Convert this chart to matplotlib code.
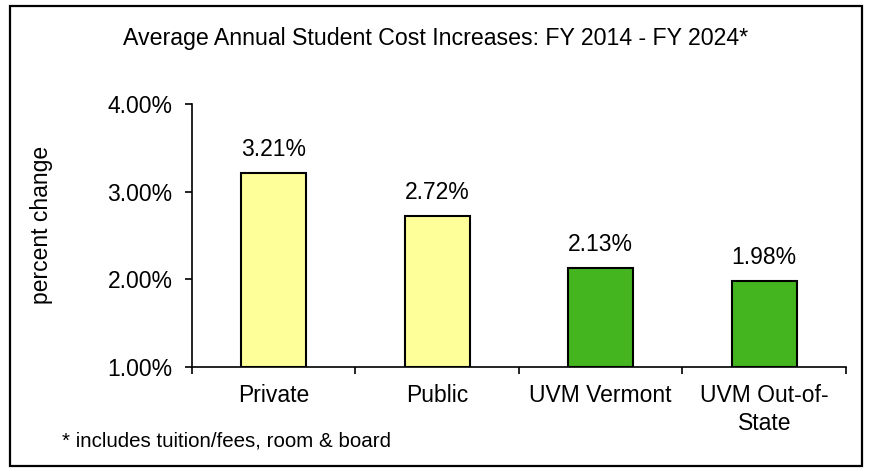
import matplotlib
matplotlib.use("Agg")
import matplotlib.pyplot as plt
from matplotlib.patches import Rectangle
from matplotlib.ticker import FuncFormatter, FixedLocator

plt.rcParams['font.family'] = ['Liberation Sans', 'DejaVu Sans']

categories = ["Private", "Public", "UVM Vermont", "UVM Out-of-\nState"]
values = [3.21, 2.72, 2.13, 1.98]
bar_colors = ["#FFFF99", "#FFFF99", "#44B41F", "#44B41F"]
title = "Average Annual Student Cost Increases: FY 2014 - FY 2024*"
footnote = "* includes tuition/fees, room & board"
ylabel = "percent change"
yticks = [1.0, 2.0, 3.0, 4.0]

W, H = 870, 472
FS = 16.5
fig = plt.figure(figsize=(W / 100, H / 100), dpi=100)
fig.patch.set_facecolor("white")

# outer border
fig.patches.append(Rectangle((10 / W, 1 - 466 / H), (862 - 10) / W, (466 - 6) / H,
                             transform=fig.transFigure, fill=False,
                             edgecolor="black", linewidth=1.6))

ax = fig.add_axes([192 / W, 1 - 367 / H, (846 - 192) / W, (367 - 104) / H])
x = list(range(len(categories)))
ax.bar(x, [v - 1.0 for v in values], bottom=1.0, width=0.4, color=bar_colors,
       edgecolor="black", linewidth=1.5, zorder=3)

ax.set_xlim(-0.5, len(categories) - 0.5)
ax.set_ylim(1.0, 4.0)
ax.set_yticks(yticks)
ax.yaxis.set_major_formatter(FuncFormatter(lambda v, p: f"{v:.2f}%"))
ax.set_xticks(x)
ax.set_xticklabels(categories, linespacing=1.3)
ax.xaxis.set_minor_locator(FixedLocator([i - 0.5 for i in range(len(categories) + 1)]))
ax.tick_params(axis="x", which="major", length=0, pad=12, labelsize=FS)
ax.tick_params(axis="x", which="minor", length=5, width=1.2, direction="out")
ax.tick_params(axis="y", length=5, width=1.2, direction="out", labelsize=FS, pad=9)
for s in ["top", "right"]:
    ax.spines[s].set_visible(False)
for s in ["left", "bottom"]:
    ax.spines[s].set_linewidth(1.2)

for xi, v in zip(x, values):
    ax.annotate(f"{v:.2f}%", (xi, v), xytext=(0, 17), textcoords="offset points",
                ha="center", va="center", fontsize=FS)

ax.set_ylabel(ylabel, fontsize=FS)
ax.yaxis.set_label_coords(53 / W, 1 - 225 / H, transform=fig.transFigure)

fig.text(436 / W, 1 - 38 / H, title, ha="center", va="center", fontsize=16.7)
fig.text(62 / W, 1 - 441 / H, footnote, ha="left", va="center", fontsize=14.8)

fig.savefig("out.png", dpi=100)
